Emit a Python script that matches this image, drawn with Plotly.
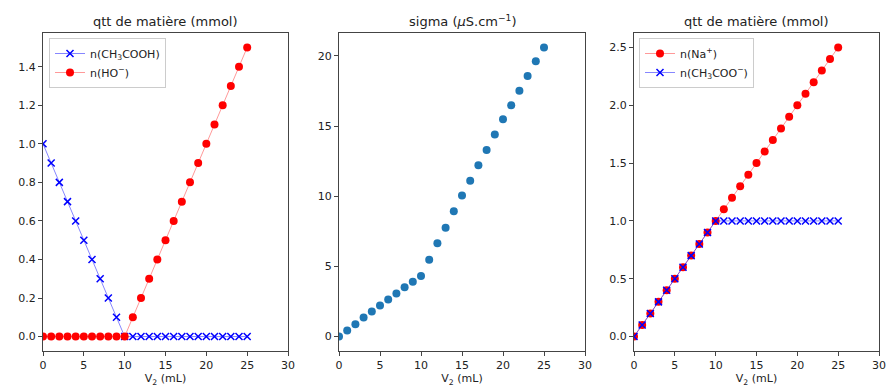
import plotly.graph_objects as go

W, H = 886, 388

v2 = list(range(0, 26))
n_ch3cooh = [1.0, 0.9, 0.8, 0.7, 0.6, 0.5, 0.4, 0.3, 0.2, 0.1, 0.0] + [0.0] * 15
n_ho = [0.0] * 11 + [0.1, 0.2, 0.3, 0.4, 0.5, 0.6, 0.7, 0.8, 0.9, 1.0, 1.1, 1.2, 1.3, 1.4, 1.5]
sigma = [0.0, 0.43, 0.88, 1.36, 1.79, 2.21, 2.64, 3.07, 3.52, 3.9, 4.31,
         5.48, 6.64, 7.76, 8.93, 10.05, 11.1, 12.2, 13.3, 14.4, 15.48,
         16.48, 17.52, 18.57, 19.62, 20.6]
n_na = [0.0, 0.1, 0.2, 0.3, 0.4, 0.5, 0.6, 0.7, 0.8, 0.9, 1.0, 1.1, 1.2, 1.3,
        1.4, 1.5, 1.6, 1.7, 1.8, 1.9, 2.0, 2.1, 2.2, 2.3, 2.4, 2.5]
n_ch3coo = [0.0, 0.1, 0.2, 0.3, 0.4, 0.5, 0.6, 0.7, 0.8, 0.9, 1.0] + [1.0] * 15

titles = ["qtt de matière (mmol)", "sigma (<i>μ</i>S.cm<sup>−1</sup>)", "qtt de matière (mmol)"]
xlabel = "V<sub>2</sub> (mL)"

FONT = "DejaVu Sans"
RED_LINE = "rgba(255,0,0,0.5)"
BLUE_LINE = "rgba(0,0,255,0.6)"

# pixel geometry of the three axes boxes
L, R, T, B = 43, 879, 33, 351
xdom_px = [(43, 288), (339, 585), (634, 879)]
PW = R - L
PH = B - T


def px_x(p):
    return (p - L) / PW


def px_y(p):
    return (B - p) / PH


fig = go.Figure()

# Left subplot
fig.add_trace(go.Scatter(
    x=v2, y=n_ch3cooh, mode="lines+markers", name="n(CH<sub>3</sub>COOH)",
    line=dict(color=BLUE_LINE, width=0.8),
    marker=dict(symbol="x-thin", size=7, color="blue", line=dict(color="blue", width=1.5)),
    xaxis="x", yaxis="y", legend="legend"))
fig.add_trace(go.Scatter(
    x=v2, y=n_ho, mode="lines+markers", name="n(HO<sup>−</sup>)",
    line=dict(color=RED_LINE, width=0.8),
    marker=dict(symbol="circle", size=8, color="red"),
    xaxis="x", yaxis="y", legend="legend"))

# Middle subplot
fig.add_trace(go.Scatter(
    x=v2, y=sigma, mode="markers", name="sigma", showlegend=False,
    marker=dict(symbol="circle", size=8, color="#1f77b4"),
    xaxis="x2", yaxis="y2"))

# Right subplot
fig.add_trace(go.Scatter(
    x=v2, y=n_na, mode="lines+markers", name="n(Na<sup>+</sup>)",
    line=dict(color=RED_LINE, width=0.8),
    marker=dict(symbol="circle", size=8, color="red"),
    xaxis="x3", yaxis="y3", legend="legend2"))
fig.add_trace(go.Scatter(
    x=v2, y=n_ch3coo, mode="lines+markers", name="n(CH<sub>3</sub>COO<sup>−</sup>)",
    line=dict(color=BLUE_LINE, width=0.8),
    marker=dict(symbol="x-thin", size=7, color="blue", line=dict(color="blue", width=1.5)),
    xaxis="x3", yaxis="y3", legend="legend2"))

axis_common = dict(
    showgrid=False, zeroline=False, showline=True, linecolor="#444", linewidth=1,
    mirror=True, ticks="outside", ticklen=4, tickwidth=1, tickcolor="#444",
    tickfont=dict(family=FONT, size=11, color="#222"), automargin=False,
)

yranges = [(-0.075, 1.575), (-1.03, 21.63), (-0.125, 2.625)]
ydtick = [0.2, 5, 0.5]
yfmt = [".1f", "d", ".1f"]

layout = dict(
    width=W, height=H, margin=dict(l=L, r=W - R, t=T, b=H - B, autoexpand=False),
    paper_bgcolor="white", plot_bgcolor="white",
    font=dict(family=FONT, size=11, color="#222"),
)

for i in range(3):
    sx = "" if i == 0 else str(i + 1)
    layout["xaxis" + sx] = dict(
        axis_common, domain=[px_x(xdom_px[i][0]), px_x(xdom_px[i][1])],
        range=[0, 30], tick0=0, dtick=5, anchor="y" + sx,
        title=dict(text=xlabel, font=dict(family=FONT, size=11, color="#222"), standoff=3),
    )
    layout["yaxis" + sx] = dict(
        axis_common, domain=[0, 1],
        range=list(yranges[i]), tick0=0, dtick=ydtick[i], tickformat=yfmt[i],
        anchor="x" + sx,
    )

legend_common = dict(
    bgcolor="rgba(255,255,255,0.8)", bordercolor="#cccccc", borderwidth=1,
    font=dict(family=FONT, size=11, color="#222"),
    xanchor="left", yanchor="top", tracegroupgap=0, itemwidth=30,
)
layout["legend"] = dict(legend_common, x=px_x(49), y=px_y(38))
layout["legend2"] = dict(legend_common, x=px_x(639), y=px_y(38))

annotations = []
for i in range(3):
    cx = (xdom_px[i][0] + xdom_px[i][1]) / 2
    annotations.append(dict(
        text=titles[i], x=px_x(cx), y=px_y(21), xref="paper", yref="paper",
        xanchor="center", yanchor="middle", showarrow=False,
        font=dict(family=FONT, size=13, color="#222"),
    ))
layout["annotations"] = annotations

fig.update_layout(**layout)
fig.write_html(
    "out.html",
    config={"displayModeBar": False},
    post_script="document.body.style.margin='0';document.body.style.overflow='hidden';",
)
